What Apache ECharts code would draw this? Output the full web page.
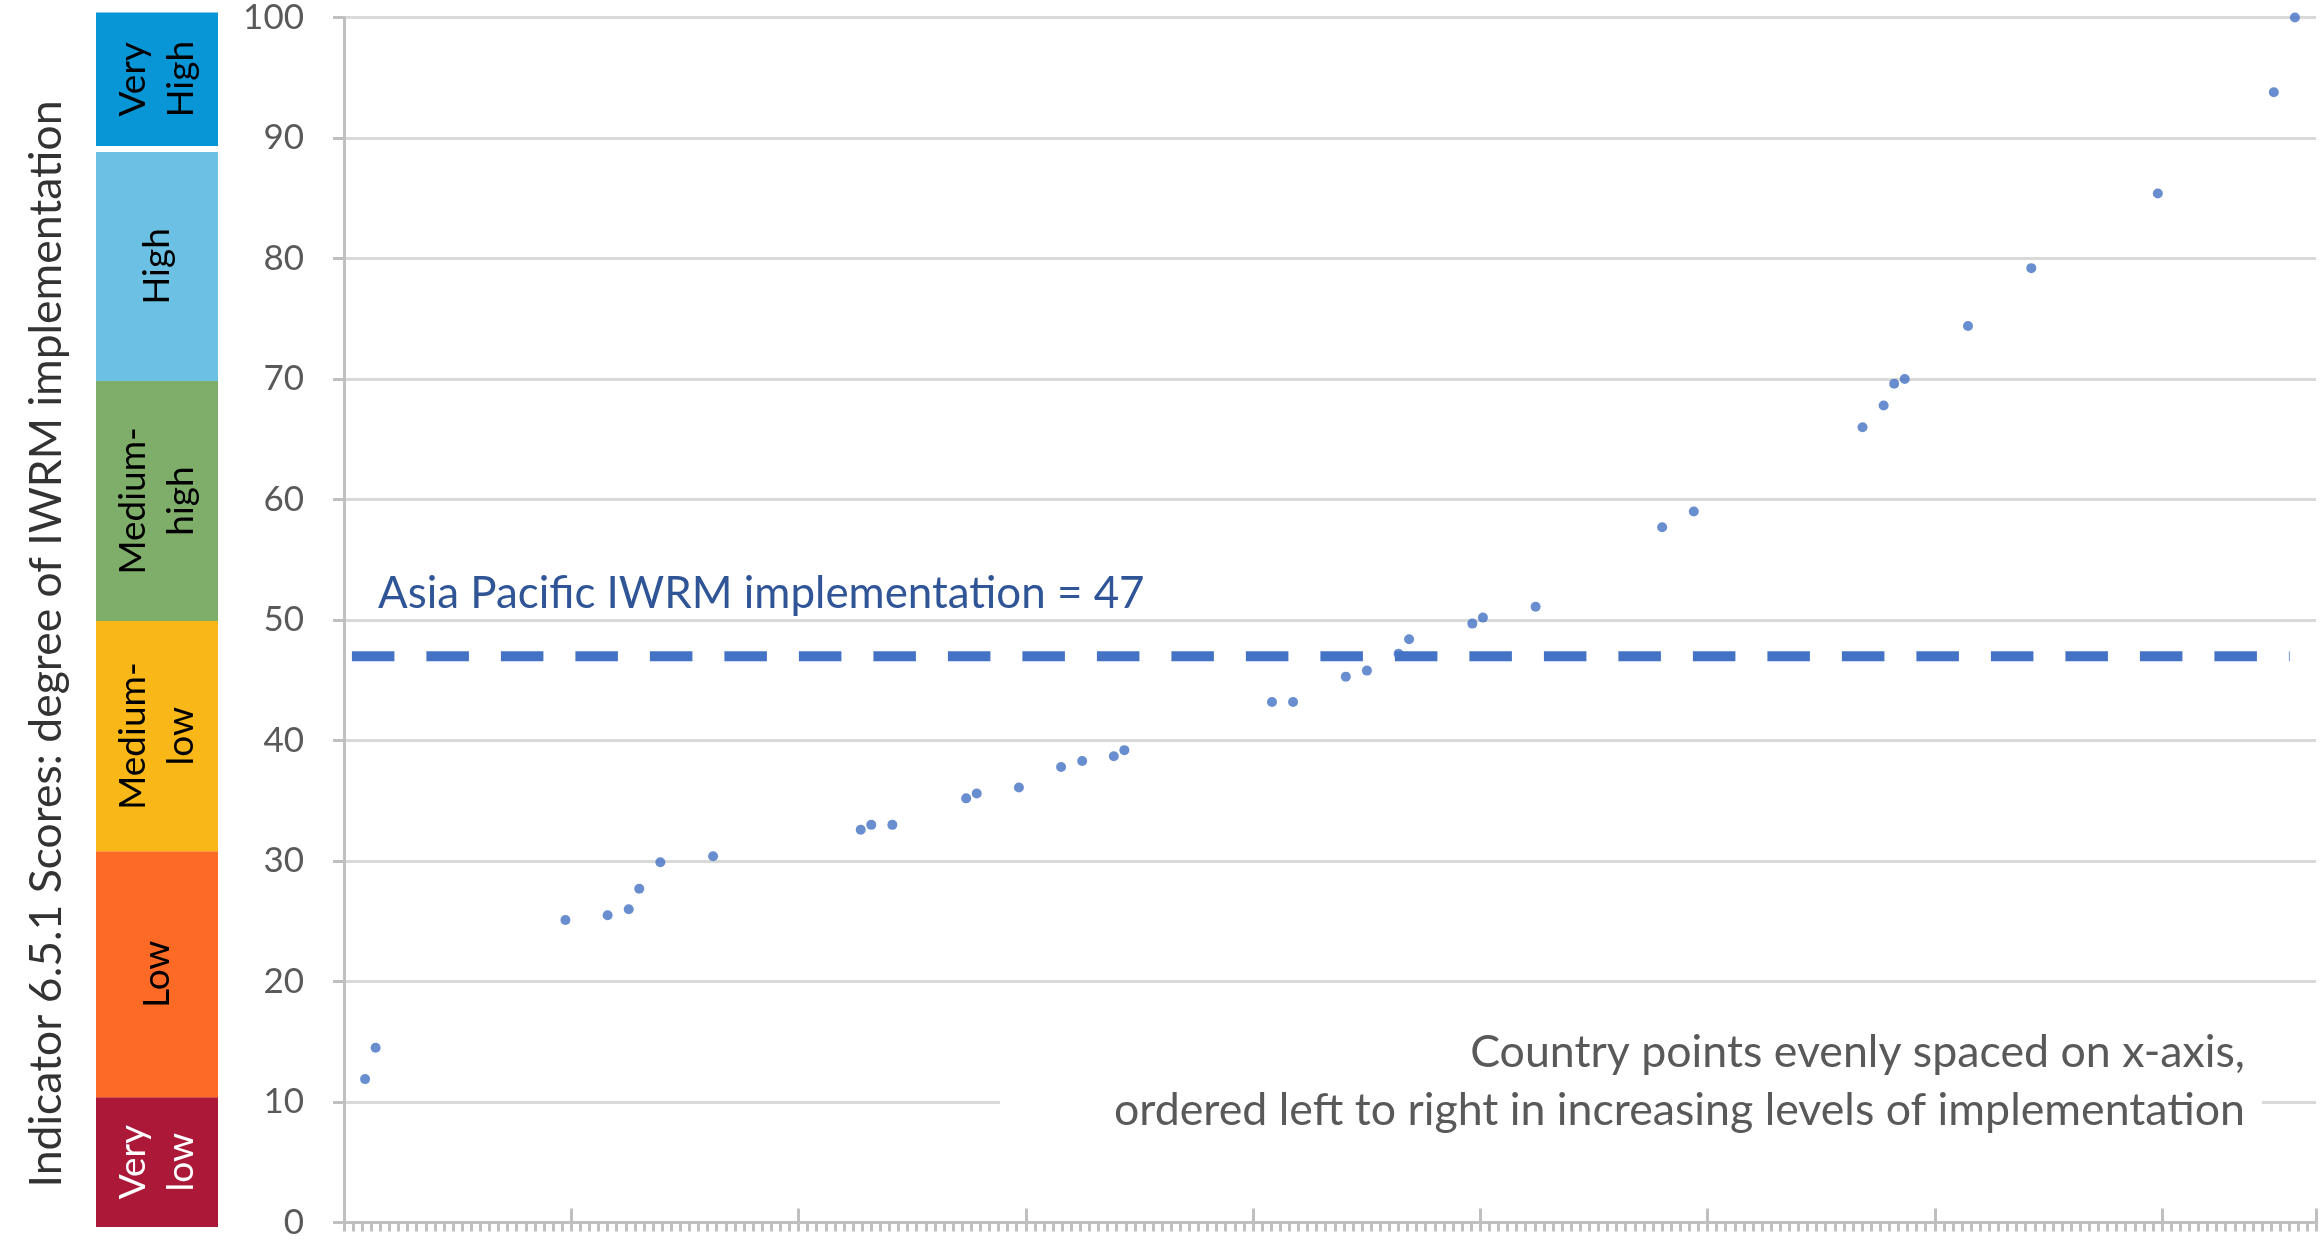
<!DOCTYPE html>
<html>
<head>
<meta charset="utf-8">
<script src="https://cdn.jsdelivr.net/npm/echarts@6/dist/echarts.min.js"></script>
<style>
html,body{margin:0;padding:0;background:#ffffff;}
#chart{width:2320px;height:1240px;}
</style>
</head>
<body>
<div id="chart"></div>
<script>
// ---- data ----
const countryRank = [2,3,21,25,27,28,30,35,49,50,52,59,60,64,68,70,73,74,88,90,95,97,100,101,107,108,113,125,128,144,146,147,148,154,160,172,183,185];
const iwrmScore   = [11.9,14.5,25.1,25.5,26.0,27.7,29.9,30.4,32.6,33.0,33.0,35.2,35.6,36.1,37.8,38.3,38.7,39.2,43.2,43.2,45.3,45.8,47.2,48.4,49.7,50.2,51.1,57.7,59.0,66.0,67.8,69.6,70.0,74.4,79.2,85.4,93.8,100];
const meanValue = 47;
const meanLineX = [0.75, 184.5];
const bandLabels = ['Very\nlow', 'Low', 'Medium-\nlow', 'Medium-\nhigh', 'High', 'Very\nHigh'];
const bandLow  = [0, 10.7, 31.0, 50.0, 69.8, 89.2];
const bandHigh = [10.7, 31.0, 50.0, 69.8, 88.7, 100.2];
const yTitle = 'Indicator 6.5.1 Scores: degree of IWRM implementation';
const meanLabel = 'Asia Pacific IWRM implementation = ' + meanValue;
const noteLines = ['Country points evenly spaced on x-axis,', 'ordered left to right in increasing levels of implementation'];
// axis settings
const xMax = 187;
const xMajor = 21.55;
const xMinor = 0.862;
const yMin = 0, yMax = 100, yStep = 10;

// ---- styles ----
const bandColors = ['#ab1838', '#fd6a25', '#f9b817', '#7eae69', '#6bc0e4', '#0896d7'];
const bandTextColors = ['#ffffff', '#000000', '#000000', '#000000', '#000000', '#000000'];
const FONT = 'Lato, "Open Sans", sans-serif';
const DASH = 42.5, GAP = 32;

function fitSize(text, width) {
  const ctx = document.createElement('canvas').getContext('2d');
  ctx.font = '100px ' + FONT;
  return 100 * width / ctx.measureText(text).width;
}
const titleSize = fitSize(yTitle, 1087);
const meanSize = fitSize(meanLabel, 767);
const noteSize = fitSize(noteLines[1], 1132);

const chart = echarts.init(document.getElementById('chart'), null, {renderer: 'canvas'});

const gridTop = 15, gridBottom = 13;

chart.setOption({
  animation: false,
  backgroundColor: '#ffffff',
  grid: [
    {left: 344, right: 4, top: gridTop, bottom: gridBottom},
    {left: 96, width: 122, top: gridTop, bottom: gridBottom}
  ],
  xAxis: [
    {
      type: 'value', gridIndex: 0, min: 0, max: xMax, interval: xMajor, position: 'bottom',
      axisLine: {show: true, onZero: false, lineStyle: {color: '#bfbfbf', width: 3}},
      axisTick: {show: true, inside: true, length: 14, lineStyle: {color: '#bfbfbf', width: 3}},
      axisLabel: {show: false}, splitLine: {show: false}
    },
    {
      type: 'value', gridIndex: 0, min: 0, max: xMax, interval: xMinor, position: 'bottom',
      axisLine: {show: false, onZero: false},
      axisTick: {show: true, inside: false, length: 9, lineStyle: {color: '#bfbfbf', width: 3}},
      axisLabel: {show: false}, splitLine: {show: false}
    },
    {type: 'value', gridIndex: 1, min: 0, max: 1, show: false}
  ],
  yAxis: [
    {
      type: 'value', gridIndex: 0, min: yMin, max: yMax, interval: yStep,
      axisLine: {show: true, lineStyle: {color: '#bfbfbf', width: 3}},
      axisTick: {show: true, inside: false, length: 11, lineStyle: {color: '#bfbfbf', width: 3}},
      axisLabel: {show: true, margin: 40, color: '#595959', fontSize: 35, fontFamily: FONT, padding: [9, 0, 0, 0]},
      splitLine: {show: true, lineStyle: {color: '#d9d9d9', width: 3}}
    },
    {type: 'value', gridIndex: 1, min: yMin, max: yMax, show: false}
  ],
  series: [
    {
      type: 'custom', xAxisIndex: 2, yAxisIndex: 1, silent: true, z: 1,
      data: bandLow.map((l, i) => [l, bandHigh[i]]),
      encode: {y: [0, 1]},
      renderItem: function (params, api) {
        const i = params.dataIndex;
        const lo = api.value(0), hi = api.value(1);
        const p1 = api.coord([0, hi]);
        const p2 = api.coord([1, lo]);
        return {
          type: 'group',
          children: [
            {type: 'rect', shape: {x: p1[0], y: p1[1], width: p2[0] - p1[0], height: p2[1] - p1[1]}, style: {fill: bandColors[i]}},
            {type: 'text', x: (p1[0] + p2[0]) / 2, y: (p1[1] + p2[1]) / 2, rotation: Math.PI / 2,
             style: {text: bandLabels[i], fill: bandTextColors[i], font: '37px ' + FONT, align: 'center', verticalAlign: 'middle', lineHeight: 48}}
          ]
        };
      }
    },
    {
      type: 'scatter', xAxisIndex: 0, yAxisIndex: 0, z: 3, silent: true,
      symbol: 'circle', symbolSize: 10,
      itemStyle: {color: '#4472c4'},
      data: countryRank.map((r, i) => [r, iwrmScore[i]])
    },
    {
      // dashed mean line: drawn as dash segments along the line from the axis scale
      type: 'custom', xAxisIndex: 0, yAxisIndex: 0, z: 5, zlevel: 1, silent: true, clip: false,
      data: [[meanLineX[0], meanLineX[1], meanValue]],
      encode: {x: [0, 1], y: 2},
      renderItem: function (params, api) {
        const a = api.coord([api.value(0), api.value(2)]);
        const b = api.coord([api.value(1), api.value(2)]);
        const children = [];
        for (let s = a[0]; s < b[0]; s += DASH + GAP) {
          const e = Math.min(s + DASH, b[0]);
          children.push({type: 'rect', shape: {x: s, y: a[1] - 5, width: e - s, height: 10}, style: {fill: '#4472c4'}});
        }
        return {type: 'group', children: children};
      }
    }
  ],
  graphic: [
    {type: 'text', x: 47, y: 644, rotation: Math.PI / 2, z: 10,
     style: {text: yTitle, fill: '#333333', font: titleSize.toFixed(1) + 'px ' + FONT, align: 'center', verticalAlign: 'middle'}},
    {type: 'text', x: 378, y: 594, z: 10,
     style: {text: meanLabel, fill: '#2f5597', font: meanSize.toFixed(1) + 'px ' + FONT, align: 'left', verticalAlign: 'middle'}},
    {type: 'rect', z: 5, shape: {x: 1000, y: 1012, width: 1262, height: 175}, style: {fill: '#ffffff'}},
    {type: 'text', x: 2245, y: 1053, z: 10,
     style: {text: noteLines[0], fill: '#595959', font: noteSize.toFixed(1) + 'px ' + FONT, align: 'right', verticalAlign: 'middle'}},
    {type: 'text', x: 2245, y: 1111, z: 10,
     style: {text: noteLines[1], fill: '#595959', font: noteSize.toFixed(1) + 'px ' + FONT, align: 'right', verticalAlign: 'middle'}}
  ]
});
</script>
</body>
</html>
